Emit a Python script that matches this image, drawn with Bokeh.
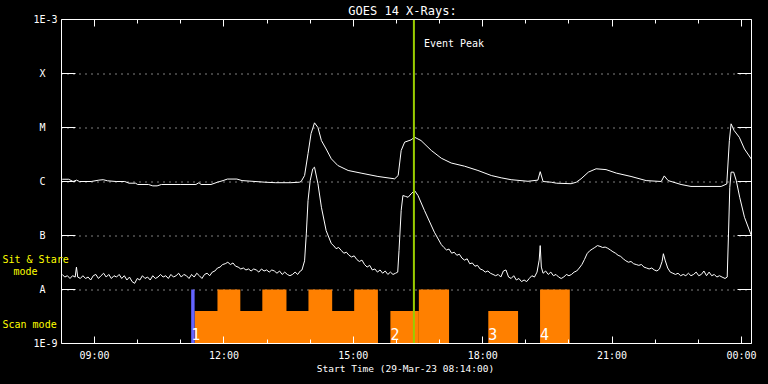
from bokeh.plotting import figure
from bokeh.models import (FixedTicker, LinearAxis, LogAxis, Label, Range1d,
                          CustomJSTickFormatter, GlobalInlineStyleSheet)
from bokeh.embed import file_html
from bokeh.resources import INLINE
from bokeh.core.properties import value

# ---------------- data ----------------
title_text = "GOES 14 X-Rays:"
x_title = "Start Time (29-Mar-23 08:14:00)"
t_start, t_end = 8.2333, 24.2333          # hours on 29-Mar-23
y_lo, y_hi = 1e-9, 1e-3
class_ticks = [1e-9, 1e-8, 1e-7, 1e-6, 1e-5, 1e-4, 1e-3]
class_labels = ["1E-9", "A", "B", "C", "M", "X", "1E-3"]
grid_levels = [1e-8, 1e-7, 1e-6, 1e-5, 1e-4]
hour_major = [9, 12, 15, 18, 21, 24]
hour_labels = ["09:00", "12:00", "15:00", "18:00", "21:00", "00:00"]
hour_minor = list(range(9, 25))
event_peak = 16.405

# long channel (1-8 A)
long_t = [8.25, 8.40, 8.50, 8.58, 8.65, 8.92, 9.10, 9.20, 9.30, 9.50, 9.70, 9.80, 9.95,
          10.00, 10.25, 10.35, 10.45, 10.55, 11.00, 11.35, 11.42, 11.47, 11.70, 11.85,
          11.98, 12.08, 12.30, 12.42, 12.65, 12.95, 13.20, 13.55, 13.75, 13.79, 13.87,
          13.95, 14.02, 14.10, 14.18, 14.26, 14.37, 14.49, 14.64, 14.88, 15.18, 15.57,
          15.96, 16.04, 16.11, 16.19, 16.34, 16.42, 16.57, 16.81, 17.04, 17.27, 17.58,
          17.89, 18.20, 18.43, 18.66, 19.05, 19.28, 19.334, 19.40, 19.59, 19.71, 20.05,
          20.17, 20.28, 20.45, 20.63, 20.86, 21.10, 21.44, 21.79, 22.14, 22.21, 22.30,
          22.60, 22.83, 23.53, 23.66, 23.72, 23.76, 23.83, 23.95, 24.07, 24.23]
long_flux = [1.10e-6, 1.10e-6, 1.00e-6, 1.06e-6, 1.00e-6, 1.00e-6, 1.06e-6, 1.08e-6, 1.03e-6,
             1.00e-6, 1.00e-6, 9.3e-7, 9.3e-7, 8.8e-7, 8.8e-7, 8.3e-7, 8.3e-7, 8.8e-7, 8.8e-7,
             8.8e-7, 9.5e-7, 8.8e-7, 8.8e-7, 9.7e-7, 1.04e-6, 1.11e-6, 1.11e-6, 1.04e-6,
             1.01e-6, 9.7e-7, 9.5e-7, 9.5e-7, 9.7e-7, 1.0e-6, 1.29e-6, 3.3e-6, 7.7e-6, 1.22e-5,
             1.0e-5, 5.74e-6, 4.0e-6, 2.63e-6, 1.98e-6, 1.6e-6, 1.43e-6, 1.24e-6, 1.12e-6,
             1.29e-6, 3.75e-6, 5.35e-6, 5.9e-6, 6.6e-6, 5.74e-6, 3.75e-6, 2.7e-6, 2.2e-6,
             1.92e-6, 1.6e-6, 1.29e-6, 1.17e-6, 1.08e-6, 1.01e-6, 1.06e-6, 1.52e-6, 1.0e-6,
             9.7e-7, 9.3e-7, 9.1e-7, 9.7e-7, 1.12e-6, 1.49e-6, 1.72e-6, 1.66e-6, 1.43e-6,
             1.24e-6, 1.04e-6, 1.0e-6, 1.27e-6, 1.04e-6, 8.8e-7, 8.1e-7, 8.1e-7, 9.0e-7,
             5.7e-6, 1.17e-5, 8.8e-6, 6.6e-6, 4.0e-6, 2.6e-6]

# short channel (0.5-4 A)
short_t = [8.25, 8.31, 8.37, 8.43, 8.49, 8.55, 8.58, 8.61, 8.67, 8.73, 8.79, 8.85, 8.91, 8.97,
           9.03, 9.09, 9.15, 9.21, 9.27, 9.33, 9.39, 9.45, 9.51, 9.57, 9.63, 9.69, 9.75, 9.81,
           9.87, 9.93, 9.99, 10.05, 10.11, 10.17, 10.23, 10.29, 10.35, 10.41, 10.47, 10.53,
           10.59, 10.65, 10.71, 10.77, 10.83, 10.89, 10.95, 11.01, 11.07, 11.13, 11.19, 11.25,
           11.31, 11.37, 11.43, 11.49, 11.55, 11.61, 11.67, 11.73, 11.79, 11.85, 11.91, 11.97,
           12.03, 12.09, 12.15, 12.21, 12.27, 12.33, 12.39, 12.45, 12.51, 12.57, 12.63, 12.69,
           12.75, 12.81, 12.87, 12.93, 12.99, 13.05, 13.11, 13.17, 13.23, 13.29, 13.35, 13.41,
           13.47, 13.53, 13.59, 13.65, 13.71, 13.77, 13.81, 13.87, 13.91, 13.95, 14.00, 14.06,
           14.10, 14.18, 14.26, 14.37, 14.49, 14.55, 14.60, 14.66, 14.72, 14.78, 14.84, 14.90,
           14.96, 15.02, 15.08, 15.14, 15.20, 15.26, 15.32, 15.38, 15.44, 15.50, 15.56, 15.62,
           15.68, 15.74, 15.80, 15.86, 15.92, 15.98, 16.03, 16.06, 16.11, 16.15, 16.21, 16.27,
           16.34, 16.42, 16.50, 16.65, 16.88, 17.04, 17.10, 17.16, 17.22, 17.28, 17.34, 17.40,
           17.46, 17.52, 17.58, 17.64, 17.70, 17.76, 17.82, 17.88, 17.94, 18.00, 18.06, 18.12,
           18.18, 18.24, 18.30, 18.36, 18.42, 18.48, 18.54, 18.60, 18.66, 18.72, 18.78, 18.84,
           18.90, 18.96, 19.02, 19.08, 19.14, 19.20, 19.26, 19.31, 19.334, 19.36, 19.40, 19.46,
           19.52, 19.58, 19.64, 19.70, 19.76, 19.82, 19.88, 19.94, 20.00, 20.06, 20.12, 20.18,
           20.24, 20.30, 20.36, 20.42, 20.48, 20.54, 20.60, 20.66, 20.72, 20.78, 20.84, 20.90,
           20.96, 21.02, 21.08, 21.14, 21.20, 21.26, 21.32, 21.38, 21.44, 21.50, 21.56, 21.62,
           21.68, 21.74, 21.80, 21.86, 21.92, 21.98, 22.04, 22.10, 22.16, 22.19, 22.23, 22.29,
           22.35, 22.41, 22.47, 22.53, 22.59, 22.65, 22.71, 22.77, 22.83, 22.89, 22.95, 23.01,
           23.07, 23.13, 23.19, 23.25, 23.31, 23.37, 23.43, 23.49, 23.55, 23.62, 23.67, 23.70,
           23.73, 23.76, 23.82, 23.88, 23.96, 24.07, 24.23]
short_flux = [1.9e-8, 1.7e-8, 1.8e-8, 1.6e-8, 1.8e-8, 1.7e-8, 2.6e-8, 1.7e-8, 1.6e-8, 1.8e-8,
              1.6e-8, 1.7e-8, 1.5e-8, 1.8e-8, 1.9e-8, 1.6e-8, 1.8e-8, 2.0e-8, 1.7e-8, 1.9e-8,
              1.6e-8, 1.8e-8, 1.7e-8, 1.9e-8, 1.6e-8, 1.8e-8, 1.5e-8, 1.7e-8, 1.4e-8, 1.3e-8,
              1.6e-8, 1.5e-8, 1.8e-8, 1.6e-8, 1.7e-8, 1.5e-8, 1.8e-8, 1.6e-8, 1.7e-8, 1.9e-8,
              1.7e-8, 1.8e-8, 1.6e-8, 1.9e-8, 1.7e-8, 1.8e-8, 2.0e-8, 1.7e-8, 1.9e-8, 1.8e-8,
              1.6e-8, 1.9e-8, 1.7e-8, 2.0e-8, 1.8e-8, 1.6e-8, 1.9e-8, 2.0e-8, 1.8e-8, 2.1e-8,
              2.2e-8, 2.5e-8, 2.6e-8, 2.9e-8, 3.0e-8, 3.2e-8, 2.9e-8, 3.1e-8, 2.7e-8, 2.6e-8,
              2.4e-8, 2.5e-8, 2.3e-8, 2.4e-8, 2.2e-8, 2.4e-8, 2.3e-8, 2.1e-8, 2.4e-8, 2.2e-8,
              2.3e-8, 2.1e-8, 2.3e-8, 2.2e-8, 2.0e-8, 2.2e-8, 1.9e-8, 2.1e-8, 1.9e-8, 1.8e-8,
              1.9e-8, 2.1e-8, 1.9e-8, 2.2e-8, 2.3e-8, 3.4e-8, 1.07e-7, 4.45e-7, 1.04e-6, 1.72e-6,
              1.84e-6, 9.1e-7, 3.34e-7, 1.23e-7, 7.1e-8, 6.4e-8, 5.7e-8, 6.0e-8, 5.3e-8, 4.7e-8,
              4.9e-8, 4.3e-8, 4.0e-8, 4.2e-8, 3.6e-8, 3.3e-8, 3.5e-8, 2.9e-8, 2.6e-8, 2.8e-8,
              2.3e-8, 2.4e-8, 2.1e-8, 2.3e-8, 2.0e-8, 2.2e-8, 1.9e-8, 2.1e-8, 1.9e-8, 2.0e-8,
              2.1e-8, 5.3e-8, 2.9e-7, 5.5e-7, 5.3e-7, 5.1e-7, 5.9e-7, 6.8e-7, 5.5e-7, 2.9e-7,
              1.15e-7, 6.8e-8, 6.0e-8, 5.4e-8, 5.6e-8, 4.7e-8, 4.9e-8, 4.3e-8, 4.5e-8, 3.8e-8,
              3.5e-8, 3.7e-8, 3.0e-8, 3.1e-8, 2.7e-8, 2.8e-8, 2.4e-8, 2.3e-8, 2.1e-8, 2.2e-8,
              2.0e-8, 1.9e-8, 1.8e-8, 1.9e-8, 1.7e-8, 2.2e-8, 2.3e-8, 1.7e-8, 1.6e-8, 1.8e-8,
              1.5e-8, 1.6e-8, 1.4e-8, 1.5e-8, 1.4e-8, 1.6e-8, 1.8e-8, 1.7e-8, 2.1e-8, 3.5e-8,
              6.5e-8, 2.6e-8, 2.0e-8, 2.2e-8, 1.9e-8, 2.1e-8, 1.8e-8, 1.9e-8, 1.7e-8, 1.6e-8,
              1.7e-8, 1.9e-8, 1.8e-8, 1.9e-8, 2.1e-8, 2.2e-8, 2.5e-8, 2.9e-8, 3.6e-8, 4.6e-8,
              5.2e-8, 5.6e-8, 6.0e-8, 6.5e-8, 6.3e-8, 6.0e-8, 6.1e-8, 5.8e-8, 5.4e-8, 5.0e-8,
              4.7e-8, 4.3e-8, 4.1e-8, 3.7e-8, 3.4e-8, 3.2e-8, 3.3e-8, 3.0e-8, 2.9e-8, 2.8e-8,
              2.9e-8, 2.6e-8, 2.5e-8, 2.4e-8, 2.5e-8, 2.3e-8, 2.2e-8, 2.4e-8, 3.3e-8, 4.6e-8,
              3.5e-8, 2.5e-8, 2.1e-8, 2.0e-8, 1.9e-8, 2.0e-8, 1.8e-8, 1.9e-8, 1.8e-8, 2.0e-8,
              1.8e-8, 1.9e-8, 2.1e-8, 1.8e-8, 1.9e-8, 2.2e-8, 1.8e-8, 2.1e-8, 1.8e-8, 1.9e-8,
              1.7e-8, 1.8e-8, 1.7e-8, 1.6e-8, 1.7e-8, 1.07e-7, 7.8e-7, 1.49e-6, 1.49e-6, 1.04e-6,
              5.1e-7, 2.18e-7, 1.0e-7]

# observing modes
floor_level = 1e-9
scan_level = 4e-9       # "Scan mode" bars
stare_level = 1e-8      # "Sit & Stare mode" bars
marker_start = [11.24]
marker_end = [11.32]
scan_start = [11.32, 15.86, 18.13]
scan_end = [15.57, 16.52, 18.82]
stare_start = [11.85, 12.89, 13.96, 15.02, 16.52, 19.33]
stare_end = [12.38, 13.45, 14.51, 15.57, 17.22, 20.02]
group_start = [11.24, 15.86, 18.13, 19.33]
group_ids = ["1", "2", "3", "4"]

# ---------------- layout constants ----------------
MONO = "DejaVu Sans Mono"
WHITE = "white"
ORANGE = "#ff8000"
W, H = 768, 384
BOX_LEFT, BOX_TOP = 61, 19        # pixel position of the data box
BOX_W, BOX_H = 690, 324
PX_PER_HOUR = BOX_W / (t_end - t_start)
PX_PER_DECADE = BOX_H / 6


def hx(px):
    """time (hours) at a pixel offset from the data box's left edge"""
    return t_start + px / PX_PER_HOUR


def vy(px):
    """flux at a pixel offset below the data box's top edge"""
    return y_hi * 10 ** (-px / PX_PER_DECADE)


def snap(v):
    """shift a flux level by half a pixel so 1px lines land on a pixel row"""
    return v * 10 ** (-0.5 / PX_PER_DECADE)


# the frame fills the whole canvas; axes are pinned around the data box
p = figure(width=W, height=H, output_backend="svg", toolbar_location=None,
           x_range=Range1d(hx(-BOX_LEFT), hx(W - BOX_LEFT)),
           y_range=Range1d(vy(H - BOX_TOP), vy(-BOX_TOP)),
           y_axis_type="log",
           min_border_left=0, min_border_right=0, min_border_top=0, min_border_bottom=0,
           background_fill_color="black", border_fill_color="black",
           outline_line_color=None)
p.stylesheets = [GlobalInlineStyleSheet(css="html,body{margin:0;padding:0;background:#000;}")]

hour_fmt = CustomJSTickFormatter(args=dict(hours=hour_major, labels=hour_labels),
                                 code="const i = hours.indexOf(Math.round(tick)); return i >= 0 ? labels[i] : '';")
class_fmt = CustomJSTickFormatter(args=dict(labels=class_labels),
                                  code="const s = labels[Math.round(Math.log10(tick)) + 9]; "
                                       "return s.length == 1 ? s + '\\u00a0\\u00a0' : s;")
blank_fmt = CustomJSTickFormatter(code="return '';")

# bottom axis
xa = p.xaxis[0]
xa.fixed_location = y_lo
xa.bounds = (t_start, t_end)
xa.ticker = FixedTicker(ticks=hour_major, minor_ticks=hour_minor)
xa.formatter = hour_fmt
xa.axis_line_color = WHITE
xa.major_tick_line_color = WHITE
xa.minor_tick_line_color = WHITE
xa.major_tick_in = 7
xa.major_tick_out = 0
xa.minor_tick_in = 4
xa.minor_tick_out = 0
xa.major_label_text_color = WHITE
xa.major_label_text_font = MONO
xa.major_label_text_font_size = "10px"
xa.major_label_standoff = 6

# top axis (ticks only)
top = LinearAxis(ticker=FixedTicker(ticks=hour_major, minor_ticks=hour_minor),
                 fixed_location=y_hi, bounds=(t_start, t_end),
                 formatter=blank_fmt, major_label_standoff=0, major_label_text_font_size="10px",
                 axis_line_color=WHITE, major_tick_line_color=WHITE, minor_tick_line_color=WHITE,
                 major_tick_in=7, major_tick_out=0, minor_tick_in=4, minor_tick_out=0)
p.add_layout(top, "above")

# left axis
ya = p.yaxis[0]
ya.fixed_location = t_start
ya.bounds = (y_lo, y_hi)
ya.ticker = FixedTicker(ticks=class_ticks)
ya.formatter = class_fmt
ya.axis_line_color = WHITE
ya.major_tick_line_color = WHITE
ya.minor_tick_line_color = None
ya.major_tick_in = 14
ya.major_tick_out = 0
ya.major_label_text_color = WHITE
ya.major_label_text_font = MONO
ya.major_label_text_font_size = "10px"
ya.major_label_standoff = 4

# right axis (ticks only)
right = LogAxis(ticker=FixedTicker(ticks=class_ticks), fixed_location=t_end, bounds=(y_lo, y_hi),
                formatter=blank_fmt, major_label_standoff=0, major_label_text_font_size="10px",
                axis_line_color=WHITE, major_tick_line_color=WHITE,
                minor_tick_line_color=None, major_tick_in=14, major_tick_out=0)
p.add_layout(right, "right")

# dotted class lines across the data box
p.xgrid.grid_line_color = None
p.ygrid.grid_line_color = None
p.segment(x0=[t_start] * len(grid_levels), x1=[t_end] * len(grid_levels),
          y0=[snap(v) for v in grid_levels], y1=[snap(v) for v in grid_levels],
          line_color=WHITE, line_width=1, line_dash="1 5")

# mode bars
p.quad(left=scan_start, right=scan_end, bottom=floor_level, top=scan_level,
       fill_color=ORANGE, line_color=None)
p.quad(left=stare_start, right=stare_end, bottom=floor_level, top=stare_level,
       fill_color=ORANGE, line_color=None)
p.quad(left=marker_start, right=marker_end, bottom=floor_level, top=stare_level,
       fill_color="#6464ff", line_color=None)
p.text(x=group_start, y=[1.5e-9] * len(group_start), text=group_ids, text_color=WHITE,
       text_font=value(MONO), text_font_size="15px", text_baseline="middle",
       text_align="left", x_offset=0)

# light curves
p.line(long_t, long_flux, line_color=WHITE, line_width=1)
p.line(short_t, short_flux, line_color=WHITE, line_width=1)

# event peak
p.segment(x0=[event_peak], x1=[event_peak], y0=[y_lo], y1=[y_hi],
          line_color="#99cc00", line_width=2)
p.add_layout(Label(x=event_peak, x_offset=10, y=vy(24), text="Event Peak", text_color=WHITE,
                   text_font=MONO, text_font_size="10px", text_align="left",
                   text_baseline="middle"))

# mode captions in the left margin
p.add_layout(Label(x=hx(-59), y=vy(240), text="Sit & Stare", text_color="yellow", text_font=MONO,
                   text_font_size="10px", text_align="left", text_baseline="middle"))
p.add_layout(Label(x=hx(-48), y=vy(252), text="mode", text_color="yellow", text_font=MONO,
                   text_font_size="10px", text_align="left", text_baseline="middle"))
p.add_layout(Label(x=hx(-59), y=vy(305), text="Scan mode", text_color="yellow", text_font=MONO,
                   text_font_size="10px", text_align="left", text_baseline="middle"))

# title and x-axis caption
p.add_layout(Label(x=hx(341), y=vy(-9), text=title_text, text_color=WHITE, text_font=MONO,
                   text_font_size="12px", text_align="center", text_baseline="middle"))
p.add_layout(Label(x=hx(344), y=vy(349), text=x_title, text_color=WHITE, text_font=MONO,
                   text_font_size="9.5px", text_align="center", text_baseline="middle"))

open("out.html", "w").write(file_html(p, INLINE))
